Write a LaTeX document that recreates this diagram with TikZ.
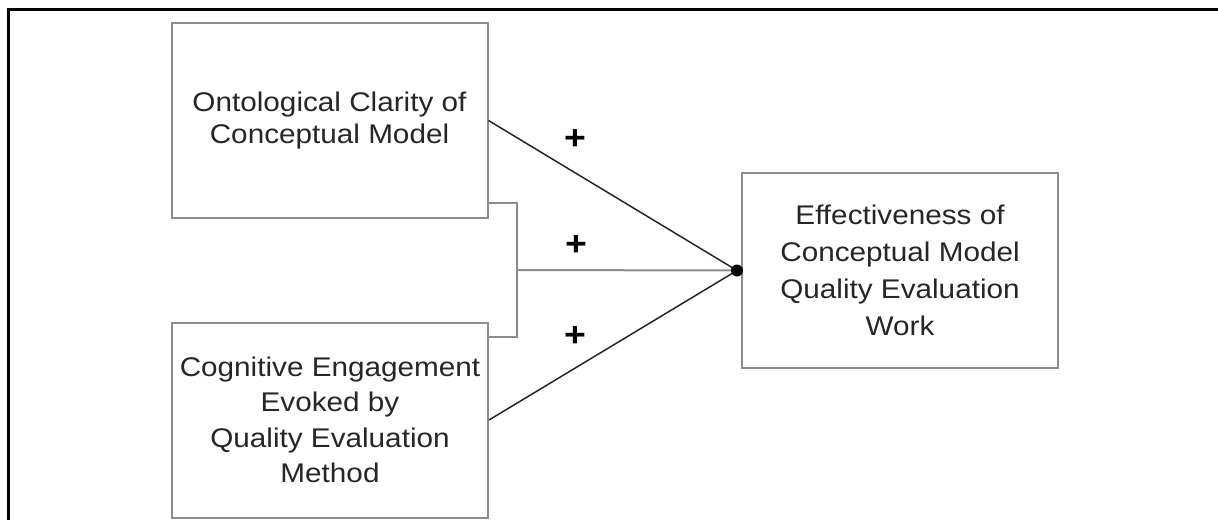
\documentclass[tikz,border=0pt]{standalone}
\usepackage{fontspec}
\setmainfont{Liberation Sans}[FakeStretch=1.1]
\begin{document}
\begin{tikzpicture}[x=1pt,y=-1pt,
  boxframe/.style={draw=black!45,line width=2pt,inner sep=0pt,
    minimum width=316pt,minimum height=195pt,align=center,text=black!85},
  bracketline/.style={draw=black!45,line width=2pt},
  pathline/.style={draw=black!85,line width=1.5pt},
  signlabel/.style={inner sep=0pt,font={\fontsize{34}{34}\selectfont\bfseries}}]
\useasboundingbox (0,0) rectangle (1218,520);
% outer frame (only top and left edges fall inside the page)
\draw[line width=3pt] (8,520) -- (8,9) -- (1218,9);

% constructs
\node[boxframe,font={\fontsize{27}{32}\selectfont}] (ont) at (329.5,120.5)
  {Ontological Clarity of\\Conceptual Model};
\node[boxframe,font={\fontsize{27}{35.5}\selectfont}] (cog) at (330,420)
  {Cognitive Engagement\\Evoked by\\Quality Evaluation\\Method};
\node[boxframe,font={\fontsize{27}{37}\selectfont}] (eff) at (900,270.5)
  {Effectiveness of\\Conceptual Model\\Quality Evaluation\\Work};

% junction point on the outcome box
\coordinate (j) at ([xshift=-4pt]eff.west);
\coordinate (br) at (517,270);

% interaction bracket
\draw[bracketline] ([yshift=16pt]ont.south east) -| (br) |- ([yshift=-15pt]cog.north east);
\draw[bracketline] (br) -- (j);

% direct effects
\draw[pathline] (ont.east) -- (j);
\draw[pathline] (cog.east) -- (j);
\fill (j) circle (6pt);

% signs
\node[signlabel] (s1) at (575,140) {+};
\node[signlabel] (s2) at (576,246) {+};
\node[signlabel] (s3) at (575,337) {+};
\end{tikzpicture}
\end{document}
